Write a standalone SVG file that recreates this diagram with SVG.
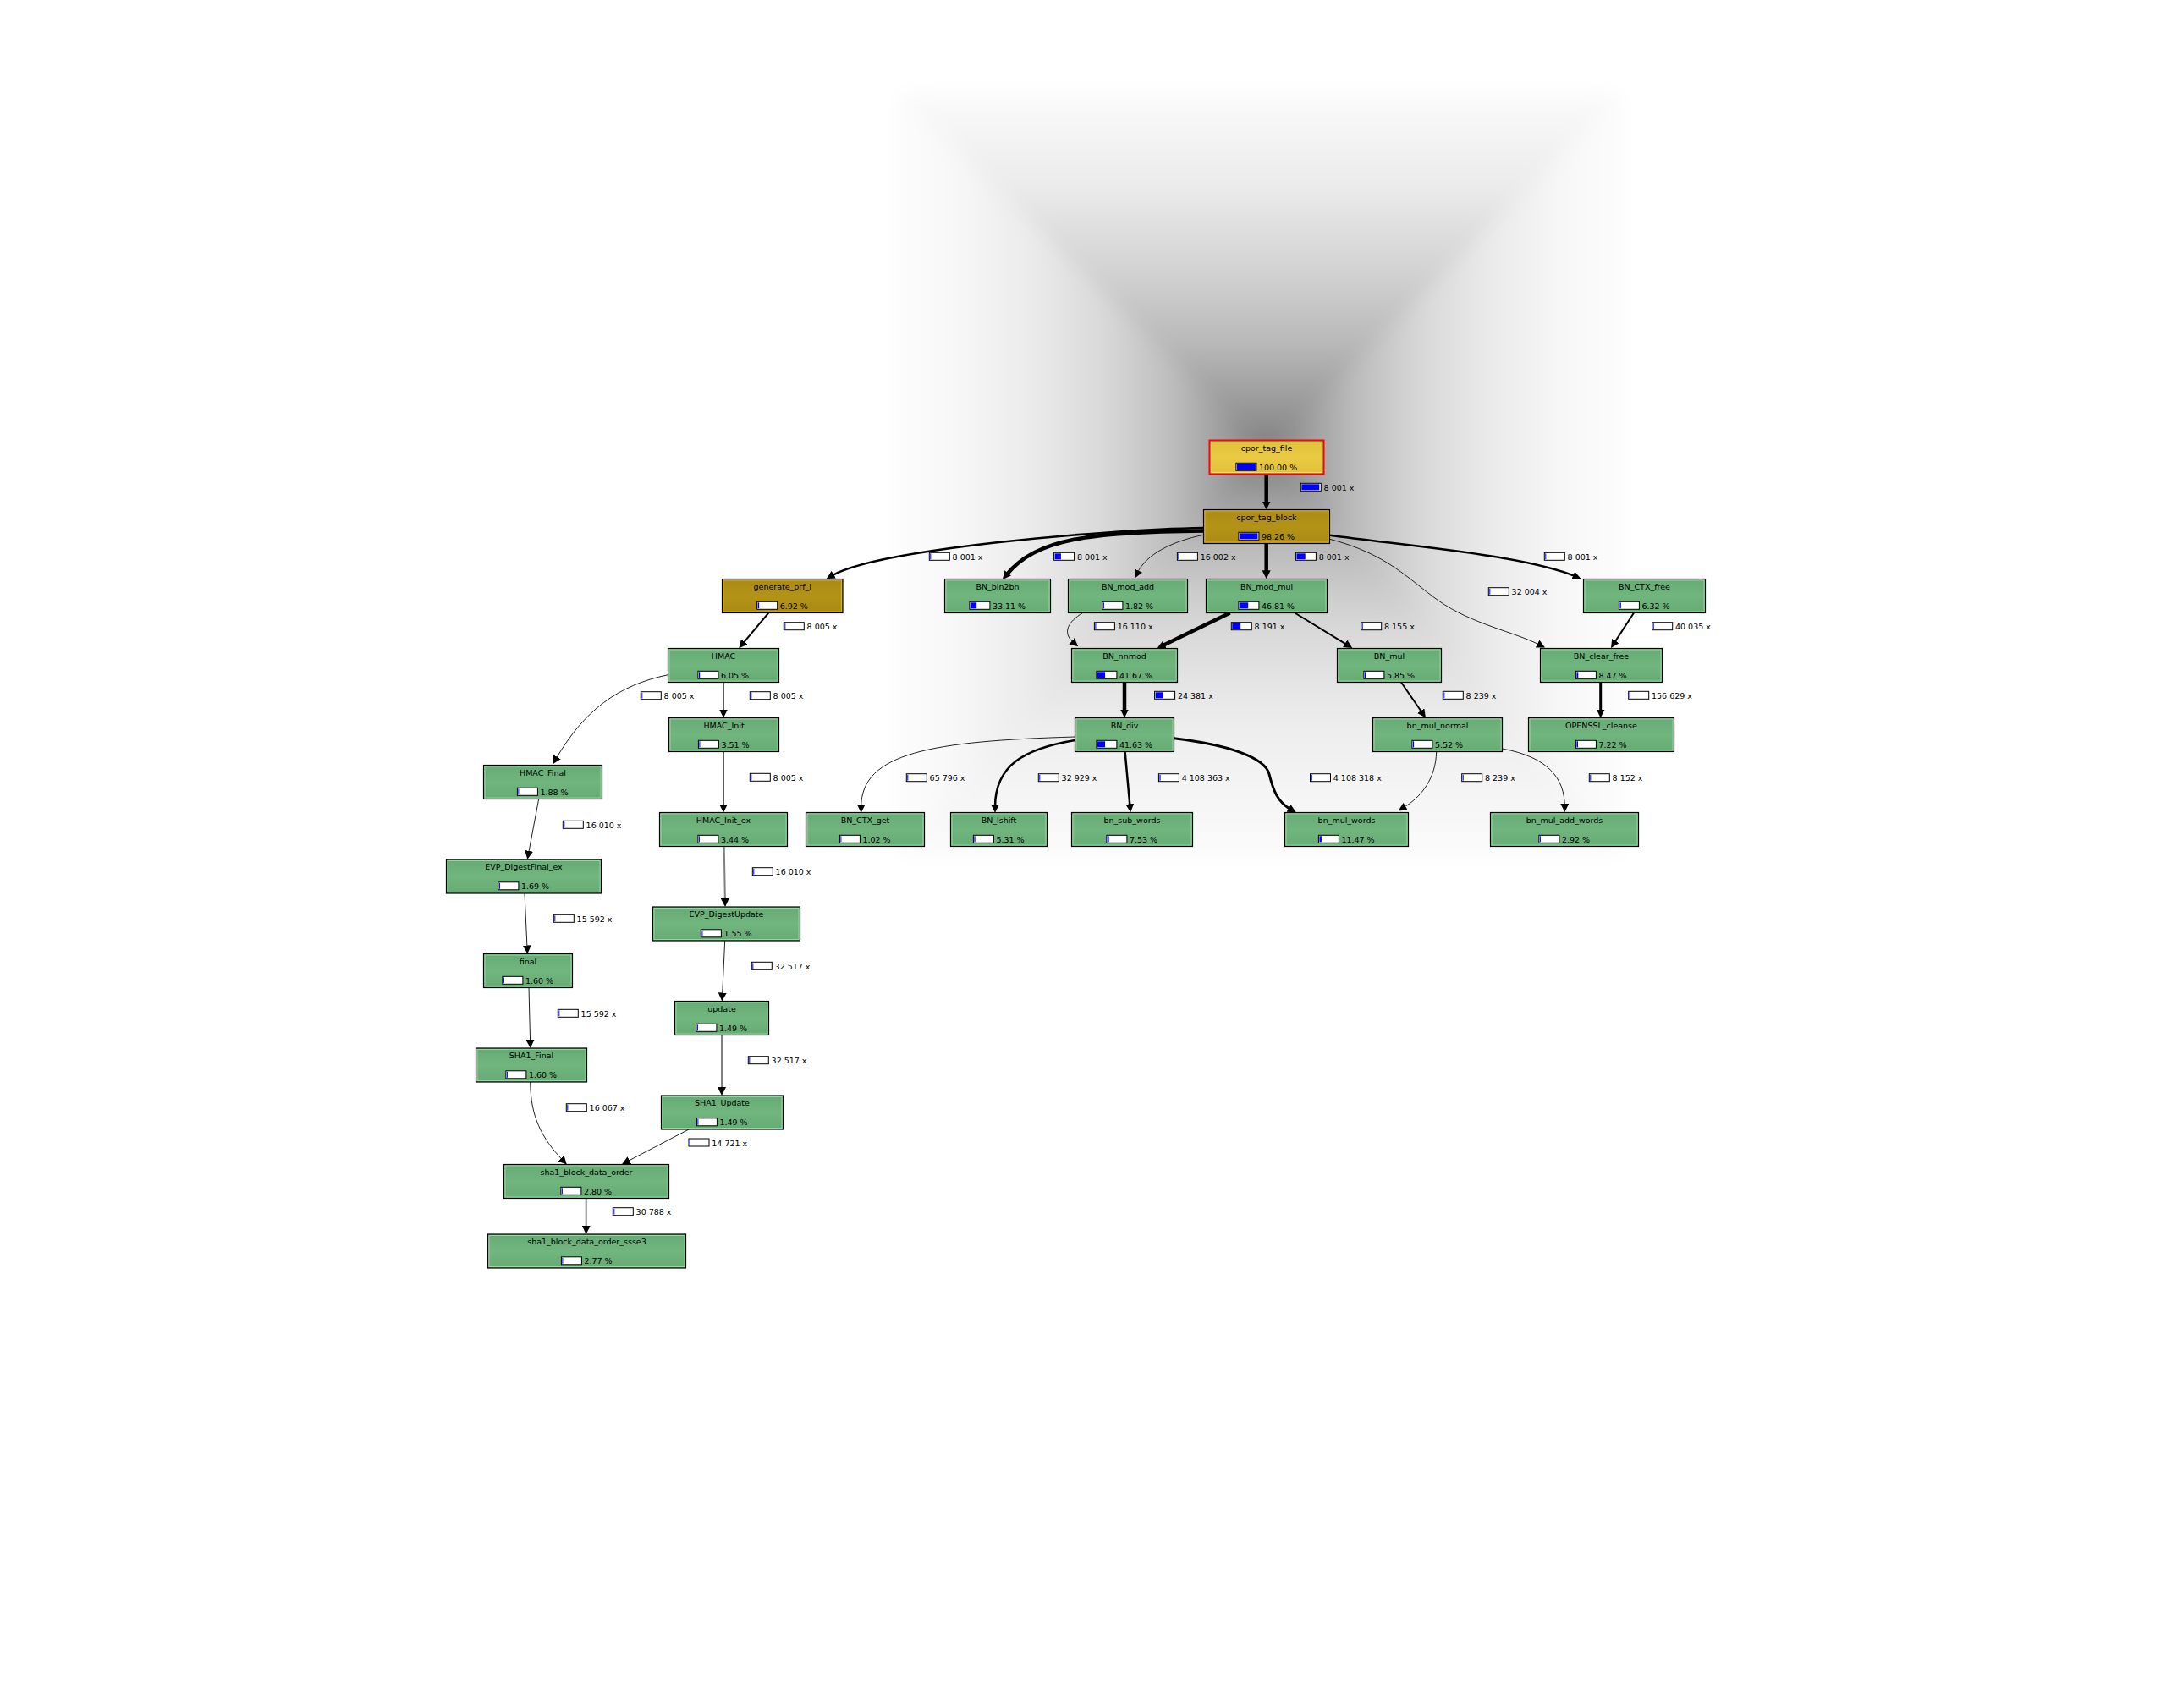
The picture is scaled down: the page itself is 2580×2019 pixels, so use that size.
<svg xmlns="http://www.w3.org/2000/svg" width="2580" height="2019" viewBox="0 0 2580 2019">
<defs>
<style>
text{font-family:"DejaVu Sans","Liberation Sans",sans-serif;font-size:9.5px;fill:#000}
.nm{text-anchor:middle}
.nb{stroke:#000;stroke-width:1.2}
.green{fill:url(#gGreen)}
.gold{fill:url(#gGold)}
.yel{fill:url(#gYel)}
.ig{fill:none;stroke:#94d7a1;stroke-width:1}
.io{fill:none;stroke:#d2b233;stroke-width:1}
.iy{fill:none;stroke:#f6e07c;stroke-width:1}
.bar{fill:#fff;stroke:#000;stroke-width:1}
.bf{fill:#0000ff}
.e{fill:none;stroke:#000;marker-end:url(#ah)}
.w1{stroke-width:1;stroke:#222}
.w2{stroke-width:2}
.w25{stroke-width:2.5}
.w3{stroke-width:3}
.w4{stroke-width:4.5}
.gr{stroke:#5a5a5a;stroke-width:2}
.gr2{stroke:#808080;stroke-width:2}
</style>
<linearGradient id="gGreen" x1="0" y1="0" x2="0" y2="1">
<stop offset="0" stop-color="#66aa74"/><stop offset="0.5" stop-color="#71b57f"/><stop offset="1" stop-color="#66aa74"/>
</linearGradient>
<linearGradient id="gGold" x1="0" y1="0" x2="0" y2="1">
<stop offset="0" stop-color="#aa8a13"/><stop offset="0.5" stop-color="#b39317"/><stop offset="1" stop-color="#aa8a13"/>
</linearGradient>
<linearGradient id="gYel" x1="0" y1="0" x2="0" y2="1">
<stop offset="0" stop-color="#e2bf38"/><stop offset="0.5" stop-color="#eaca44"/><stop offset="1" stop-color="#e2bf38"/>
</linearGradient>
<linearGradient id="bgT" gradientUnits="userSpaceOnUse" x1="0" y1="535" x2="0" y2="109">
<stop offset="0" stop-color="#7c7c7c"/><stop offset="0.12" stop-color="#979797"/><stop offset="0.3" stop-color="#b8b8b8"/><stop offset="0.5" stop-color="#d2d2d2"/><stop offset="0.75" stop-color="#ececec"/><stop offset="1" stop-color="#fbfbfb"/>
</linearGradient>
<linearGradient id="bgL" gradientUnits="userSpaceOnUse" x1="1497" y1="0" x2="1060" y2="0">
<stop offset="0" stop-color="#7c7c7c"/><stop offset="0.1" stop-color="#999999"/><stop offset="0.25" stop-color="#bcbcbc"/><stop offset="0.45" stop-color="#dadada"/><stop offset="0.65" stop-color="#ececec"/><stop offset="0.85" stop-color="#f8f8f8"/><stop offset="1" stop-color="#fcfcfc"/>
</linearGradient>
<linearGradient id="bgR" gradientUnits="userSpaceOnUse" x1="1497" y1="0" x2="1918" y2="0">
<stop offset="0" stop-color="#7c7c7c"/><stop offset="0.1" stop-color="#999999"/><stop offset="0.25" stop-color="#bcbcbc"/><stop offset="0.45" stop-color="#dadada"/><stop offset="0.65" stop-color="#ececec"/><stop offset="0.85" stop-color="#f8f8f8"/><stop offset="1" stop-color="#fcfcfc"/>
</linearGradient>
<linearGradient id="bgB" gradientUnits="userSpaceOnUse" x1="0" y1="535" x2="0" y2="1012">
<stop offset="0" stop-color="#7c7c7c"/><stop offset="0.1" stop-color="#9a9a9a"/><stop offset="0.25" stop-color="#bdbdbd"/><stop offset="0.45" stop-color="#dadada"/><stop offset="0.7" stop-color="#efefef"/><stop offset="1" stop-color="#fbfbfb"/>
</linearGradient>
<filter id="soft" x="-5%" y="-5%" width="110%" height="110%"><feGaussianBlur stdDeviation="11"/></filter>
<marker id="ah" viewBox="0 0 10 10" refX="3" refY="5" markerWidth="10" markerHeight="10" markerUnits="userSpaceOnUse" orient="auto">
<path d="M0,0 L10,5 L0,10 Z" fill="#000"/>
</marker>
</defs>
<rect width="2580" height="2019" fill="#fff"/>
<g id="background" filter="url(#soft)">
<polygon points="1060,109 1918,109 1497,535" fill="url(#bgT)"/>
<polygon points="1060,109 1060,1012 1497,535" fill="url(#bgL)"/>
<polygon points="1918,109 1918,1012 1497,535" fill="url(#bgR)"/>
<polygon points="1060,1012 1918,1012 1497,535" fill="url(#bgB)"/>
</g>

<g id="connectors">
<g id="e1"><path class="e w4" d="M1496.7,561 L1496.7,595.5"/><rect class="bar" x="1537.3" y="571.3" width="24" height="9"/><rect class="bf" x="1538.3" y="572.3" width="21" height="7"/><text x="1564.6" y="579.9">8 001 x</text></g>
<g id="e2"><path class="e w25" d="M1422.5,624 C1300,626 1034,650 982.7,680.7"/><rect class="bar" x="1098.3" y="653.3" width="24" height="9"/><rect class="bf" x="1099.3" y="654.3" width="1" height="7"/><text x="1125.6" y="661.9">8 001 x</text></g>
<g id="e3"><path class="e w4" d="M1422.5,627.5 C1290,629 1225,636 1189.3,679.7"/><rect class="bar" x="1245.6" y="653.3" width="24" height="9"/><rect class="bf" x="1246.6" y="654.3" width="7.3" height="7"/><text x="1272.9" y="661.9">8 001 x</text></g>
<g id="e4"><path class="e w1" d="M1422.3,632.3 C1385,640 1355,655 1344.2,677.2"/><rect class="bar" x="1391.4" y="653.3" width="24" height="9"/><rect class="bf" x="1392.4" y="654.3" width="1" height="7"/><text x="1418.7" y="661.9">16 002 x</text></g>
<g id="e5"><path class="e w4" d="M1496.7,642.5 L1496.7,677.3"/><rect class="bar" x="1531.4" y="653.3" width="24" height="9"/><rect class="bf" x="1532.4" y="654.3" width="10.3" height="7"/><text x="1558.7" y="661.9">8 001 x</text></g>
<g id="e6"><path class="e w25" d="M1571.7,632.7 C1660,645 1800,656 1862,681.4"/><rect class="bar" x="1825.3" y="653.3" width="24" height="9"/><rect class="bf" x="1826.3" y="654.3" width="1" height="7"/><text x="1852.6" y="661.9">8 001 x</text></g>
<g id="e7"><path class="e w1" d="M1571.7,637.3 C1640,655 1665,685 1700,710 C1740,738 1790,747 1819.8,762.4"/><rect class="bar" x="1759.3" y="694.7" width="24" height="9"/><rect class="bf" x="1760.3" y="695.7" width="1" height="7"/><text x="1786.6" y="703.3">32 004 x</text></g>
<g id="e8"><path class="e w2" d="M908.3,724.5 L877.8,760.9"/><rect class="bar" x="926.3" y="735.7" width="24" height="9"/><rect class="bf" x="927.3" y="736.7" width="1" height="7"/><text x="953.6" y="744.3">8 005 x</text></g>
<g id="e9"><path class="e w1" d="M1279.6,724.5 C1262,735 1255,748 1268.9,759.8"/><rect class="bar" x="1293.4" y="735.7" width="24" height="9"/><rect class="bf" x="1294.4" y="736.7" width="1" height="7"/><text x="1320.7" y="744.3">16 110 x</text></g>
<g id="e10"><path class="e w4" d="M1453.7,724.5 L1373.9,763.2"/><rect class="bar" x="1455.3" y="735.7" width="24" height="9"/><rect class="bf" x="1456.3" y="736.7" width="9.9" height="7"/><text x="1482.6" y="744.3">8 191 x</text></g>
<g id="e11"><path class="e w2" d="M1530.3,724.5 L1592.3,762.3"/><rect class="bar" x="1608.7" y="735.7" width="24" height="9"/><rect class="bf" x="1609.7" y="736.7" width="1" height="7"/><text x="1636" y="744.3">8 155 x</text></g>
<g id="e12"><path class="e w2" d="M1931,724.5 L1907.8,760.1"/><rect class="bar" x="1952.7" y="735.7" width="24" height="9"/><rect class="bf" x="1953.7" y="736.7" width="1" height="7"/><text x="1980" y="744.3">40 035 x</text></g>
<g id="e13"><path class="e w4" d="M1329,806.5 L1329,841.5"/><rect class="bar" x="1364.6" y="817.3" width="24" height="9"/><rect class="bf" x="1365.6" y="818.3" width="9.2" height="7"/><text x="1391.9" y="825.9">24 381 x</text></g>
<g id="e14"><path class="e w2" d="M1656,806.5 L1681,842.7"/><rect class="bar" x="1705.3" y="817.3" width="24" height="9"/><rect class="bf" x="1706.3" y="818.3" width="1" height="7"/><text x="1732.6" y="825.9">8 239 x</text></g>
<g id="e15"><path class="e w3" d="M1891.7,806.5 L1891.7,841.5"/><rect class="bar" x="1924.7" y="817.3" width="24" height="9"/><rect class="bf" x="1925.7" y="818.3" width="1" height="7"/><text x="1952" y="825.9">156 629 x</text></g>
<g id="e16"><path class="e gr" d="M855,806.5 L855,841.5"/><rect class="bar" x="886.3" y="817.7" width="24" height="9"/><rect class="bf" x="887.3" y="818.7" width="1" height="7"/><text x="913.6" y="826.3">8 005 x</text></g>
<g id="e17"><path class="e w1" d="M789.5,797.7 C730,810 690,840 656.9,897.3"/><rect class="bar" x="757.3" y="817.7" width="24" height="9"/><rect class="bf" x="758.3" y="818.7" width="1" height="7"/><text x="784.6" y="826.3">8 005 x</text></g>
<g id="e18"><path class="e gr" d="M855,888.5 L855,953.5"/><rect class="bar" x="886.3" y="914.3" width="24" height="9"/><rect class="bf" x="887.3" y="915.3" width="1" height="7"/><text x="913.6" y="922.9">8 005 x</text></g>
<g id="e19"><path class="e w1" d="M636.7,944.5 L624.6,1008.8"/><rect class="bar" x="665.3" y="970.3" width="24" height="9"/><rect class="bf" x="666.3" y="971.3" width="1" height="7"/><text x="692.6" y="978.9">16 010 x</text></g>
<g id="e20"><path class="e gr2" d="M855.7,1000.5 L856.9,1065"/><rect class="bar" x="889.3" y="1025.7" width="24" height="9"/><rect class="bf" x="890.3" y="1026.7" width="1" height="7"/><text x="916.6" y="1034.3">16 010 x</text></g>
<g id="e21"><path class="e w1" d="M620,1056 L623,1120.5"/><rect class="bar" x="654.3" y="1081.3" width="24" height="9"/><rect class="bf" x="655.3" y="1082.3" width="1" height="7"/><text x="681.6" y="1089.9">15 592 x</text></g>
<g id="e22"><path class="e w1" d="M856.7,1112 L853.6,1176.5"/><rect class="bar" x="888.3" y="1137.3" width="24" height="9"/><rect class="bf" x="889.3" y="1138.3" width="1" height="7"/><text x="915.6" y="1145.9">32 517 x</text></g>
<g id="e23"><path class="e w1" d="M625,1167.5 L626.6,1232"/><rect class="bar" x="659.3" y="1193.3" width="24" height="9"/><rect class="bf" x="660.3" y="1194.3" width="1" height="7"/><text x="686.6" y="1201.9">15 592 x</text></g>
<g id="e24"><path class="e gr2" d="M853,1223.5 L853,1288"/><rect class="bar" x="884.3" y="1248.7" width="24" height="9"/><rect class="bf" x="885.3" y="1249.7" width="1" height="7"/><text x="911.6" y="1257.3">32 517 x</text></g>
<g id="e25"><path class="e w1" d="M626.7,1279 C627,1320 640,1345 665,1371.5"/><rect class="bar" x="669.3" y="1304.7" width="24" height="9"/><rect class="bf" x="670.3" y="1305.7" width="1" height="7"/><text x="696.6" y="1313.3">16 067 x</text></g>
<g id="e26"><path class="e w1" d="M814,1335 L741.2,1373"/><rect class="bar" x="814" y="1346" width="24" height="9"/><rect class="bf" x="815" y="1347" width="1" height="7"/><text x="841.3" y="1354.6">14 721 x</text></g>
<g id="e27"><path class="e gr2" d="M692.7,1416.5 L692.7,1452"/><rect class="bar" x="724.3" y="1427.7" width="24" height="9"/><rect class="bf" x="725.3" y="1428.7" width="1" height="7"/><text x="751.6" y="1436.3">30 788 x</text></g>
<g id="e28"><path class="e w1" d="M1270.5,871 C1100,876 1018,890 1017.7,953.7"/><rect class="bar" x="1071.3" y="914.7" width="24" height="9"/><rect class="bf" x="1072.3" y="915.7" width="1" height="7"/><text x="1098.6" y="923.3">65 796 x</text></g>
<g id="e29"><path class="e w25" d="M1270.5,875 C1210,885 1176,905 1176,953.7"/><rect class="bar" x="1227.3" y="914.7" width="24" height="9"/><rect class="bf" x="1228.3" y="915.7" width="1" height="7"/><text x="1254.6" y="923.3">32 929 x</text></g>
<g id="e30"><path class="e w25" d="M1329.6,888.5 L1335.5,953.3"/><rect class="bar" x="1369.4" y="914.7" width="24" height="9"/><rect class="bf" x="1370.4" y="915.7" width="1.2" height="7"/><text x="1396.7" y="923.3">4 108 363 x</text></g>
<g id="e31"><path class="e w3" d="M1387.5,872.7 C1450,880 1495,895 1500,915 C1505,935 1510,948 1525.7,956.9"/><rect class="bar" x="1548.5" y="914.7" width="24" height="9"/><rect class="bf" x="1549.5" y="915.7" width="1.2" height="7"/><text x="1575.8" y="923.3">4 108 318 x</text></g>
<g id="e32"><path class="e w1" d="M1697.7,888.5 C1697,920 1680,942 1658.6,954.8"/><rect class="bar" x="1727.7" y="914.7" width="24" height="9"/><rect class="bf" x="1728.7" y="915.7" width="1" height="7"/><text x="1755" y="923.3">8 239 x</text></g>
<g id="e33"><path class="e w1" d="M1775.5,885 C1830,895 1849,920 1849.3,953"/><rect class="bar" x="1878.3" y="914.7" width="24" height="9"/><rect class="bf" x="1879.3" y="915.7" width="1" height="7"/><text x="1905.6" y="923.3">8 152 x</text></g>
</g>

<g id="nodes">
<g id="n_cpor_tag_file"><rect class="yel" x="1429.5" y="520.5" width="135" height="40" stroke="#ff0000" stroke-width="2"/><rect class="iy" x="1431.5" y="522.5" width="131" height="36"/><text class="nm" x="1497" y="532.5">cpor_tag_file</text><rect class="bar" x="1460.9" y="547.3" width="24" height="9"/><rect class="bf" x="1461.9" y="548.3" width="22" height="7"/><text x="1487.9" y="555.8">100.00 %</text></g>
<g id="n_cpor_tag_block"><rect class="gold nb" x="1422.5" y="602.5" width="149" height="40"/><rect class="io" x="1424" y="604" width="146" height="37"/><text class="nm" x="1497" y="614.5">cpor_tag_block</text><rect class="bar" x="1463.9" y="629.3" width="24" height="9"/><rect class="bf" x="1464.9" y="630.3" width="21.6" height="7"/><text x="1490.9" y="637.8">98.26 %</text></g>
<g id="n_generate_prf_i"><rect class="gold nb" x="853.5" y="684.5" width="142.5" height="40"/><rect class="io" x="855" y="686" width="139.5" height="37"/><text class="nm" x="924.75" y="696.5">generate_prf_i</text><rect class="bar" x="894.65" y="711.3" width="24" height="9"/><rect class="bf" x="895.65" y="712.3" width="1.5" height="7"/><text x="921.65" y="719.8">6.92 %</text></g>
<g id="n_BN_bin2bn"><rect class="green nb" x="1116.5" y="684.5" width="125" height="40"/><rect class="ig" x="1118" y="686" width="122" height="37"/><text class="nm" x="1179" y="696.5">BN_bin2bn</text><rect class="bar" x="1145.9" y="711.3" width="24" height="9"/><rect class="bf" x="1146.9" y="712.3" width="7.3" height="7"/><text x="1172.9" y="719.8">33.11 %</text></g>
<g id="n_BN_mod_add"><rect class="green nb" x="1262.5" y="684.5" width="141" height="40"/><rect class="ig" x="1264" y="686" width="138" height="37"/><text class="nm" x="1333" y="696.5">BN_mod_add</text><rect class="bar" x="1302.9" y="711.3" width="24" height="9"/><rect class="bf" x="1303.9" y="712.3" width="1" height="7"/><text x="1329.9" y="719.8">1.82 %</text></g>
<g id="n_BN_mod_mul"><rect class="green nb" x="1425.5" y="684.5" width="143" height="40"/><rect class="ig" x="1427" y="686" width="140" height="37"/><text class="nm" x="1497" y="696.5">BN_mod_mul</text><rect class="bar" x="1463.9" y="711.3" width="24" height="9"/><rect class="bf" x="1464.9" y="712.3" width="10.3" height="7"/><text x="1490.9" y="719.8">46.81 %</text></g>
<g id="n_BN_CTX_free"><rect class="green nb" x="1871.5" y="684.5" width="144" height="40"/><rect class="ig" x="1873" y="686" width="141" height="37"/><text class="nm" x="1943.5" y="696.5">BN_CTX_free</text><rect class="bar" x="1913.4" y="711.3" width="24" height="9"/><rect class="bf" x="1914.4" y="712.3" width="1.4" height="7"/><text x="1940.4" y="719.8">6.32 %</text></g>
<g id="n_BN_nnmod"><rect class="green nb" x="1266.5" y="766.5" width="125" height="40"/><rect class="ig" x="1268" y="768" width="122" height="37"/><text class="nm" x="1329" y="778.5">BN_nnmod</text><rect class="bar" x="1295.9" y="793.3" width="24" height="9"/><rect class="bf" x="1296.9" y="794.3" width="9.2" height="7"/><text x="1322.9" y="801.8">41.67 %</text></g>
<g id="n_BN_mul"><rect class="green nb" x="1580.5" y="766.5" width="123" height="40"/><rect class="ig" x="1582" y="768" width="120" height="37"/><text class="nm" x="1642" y="778.5">BN_mul</text><rect class="bar" x="1611.9" y="793.3" width="24" height="9"/><rect class="bf" x="1612.9" y="794.3" width="1.3" height="7"/><text x="1638.9" y="801.8">5.85 %</text></g>
<g id="n_BN_clear_free"><rect class="green nb" x="1820.5" y="766.5" width="144" height="40"/><rect class="ig" x="1822" y="768" width="141" height="37"/><text class="nm" x="1892.5" y="778.5">BN_clear_free</text><rect class="bar" x="1862.4" y="793.3" width="24" height="9"/><rect class="bf" x="1863.4" y="794.3" width="1.9" height="7"/><text x="1889.4" y="801.8">8.47 %</text></g>
<g id="n_HMAC"><rect class="green nb" x="789.5" y="766.5" width="131" height="40"/><rect class="ig" x="791" y="768" width="128" height="37"/><text class="nm" x="855" y="778.5">HMAC</text><rect class="bar" x="824.9" y="793.3" width="24" height="9"/><rect class="bf" x="825.9" y="794.3" width="1.3" height="7"/><text x="851.9" y="801.8">6.05 %</text></g>
<g id="n_HMAC_Init"><rect class="green nb" x="790.5" y="848.5" width="130" height="40"/><rect class="ig" x="792" y="850" width="127" height="37"/><text class="nm" x="855.5" y="860.5">HMAC_Init</text><rect class="bar" x="825.4" y="875.3" width="24" height="9"/><rect class="bf" x="826.4" y="876.3" width="1" height="7"/><text x="852.4" y="883.8">3.51 %</text></g>
<g id="n_HMAC_Final"><rect class="green nb" x="571.5" y="904.5" width="140" height="40"/><rect class="ig" x="573" y="906" width="137" height="37"/><text class="nm" x="641.5" y="916.5">HMAC_Final</text><rect class="bar" x="611.4" y="931.3" width="24" height="9"/><rect class="bf" x="612.4" y="932.3" width="1" height="7"/><text x="638.4" y="939.8">1.88 %</text></g>
<g id="n_HMAC_Init_ex"><rect class="green nb" x="779.5" y="960.5" width="151" height="40"/><rect class="ig" x="781" y="962" width="148" height="37"/><text class="nm" x="855" y="972.5">HMAC_Init_ex</text><rect class="bar" x="824.9" y="987.3" width="24" height="9"/><rect class="bf" x="825.9" y="988.3" width="1" height="7"/><text x="851.9" y="995.8">3.44 %</text></g>
<g id="n_EVP_DigestFinal_ex"><rect class="green nb" x="527.5" y="1016" width="183" height="40"/><rect class="ig" x="529" y="1017.5" width="180" height="37"/><text class="nm" x="619" y="1028">EVP_DigestFinal_ex</text><rect class="bar" x="588.9" y="1042.8" width="24" height="9"/><rect class="bf" x="589.9" y="1043.8" width="1" height="7"/><text x="615.9" y="1051.3">1.69 %</text></g>
<g id="n_EVP_DigestUpdate"><rect class="green nb" x="771.5" y="1072" width="174" height="40"/><rect class="ig" x="773" y="1073.5" width="171" height="37"/><text class="nm" x="858.5" y="1084">EVP_DigestUpdate</text><rect class="bar" x="828.4" y="1098.8" width="24" height="9"/><rect class="bf" x="829.4" y="1099.8" width="1" height="7"/><text x="855.4" y="1107.3">1.55 %</text></g>
<g id="n_final"><rect class="green nb" x="571.5" y="1127.5" width="105" height="40"/><rect class="ig" x="573" y="1129" width="102" height="37"/><text class="nm" x="624" y="1139.5">final</text><rect class="bar" x="593.9" y="1154.3" width="24" height="9"/><rect class="bf" x="594.9" y="1155.3" width="1" height="7"/><text x="620.9" y="1162.8">1.60 %</text></g>
<g id="n_update"><rect class="green nb" x="797.5" y="1183.5" width="111" height="40"/><rect class="ig" x="799" y="1185" width="108" height="37"/><text class="nm" x="853" y="1195.5">update</text><rect class="bar" x="822.9" y="1210.3" width="24" height="9"/><rect class="bf" x="823.9" y="1211.3" width="1" height="7"/><text x="849.9" y="1218.8">1.49 %</text></g>
<g id="n_SHA1_Final"><rect class="green nb" x="562.5" y="1239" width="131" height="40"/><rect class="ig" x="564" y="1240.5" width="128" height="37"/><text class="nm" x="628" y="1251">SHA1_Final</text><rect class="bar" x="597.9" y="1265.8" width="24" height="9"/><rect class="bf" x="598.9" y="1266.8" width="1" height="7"/><text x="624.9" y="1274.3">1.60 %</text></g>
<g id="n_SHA1_Update"><rect class="green nb" x="781.5" y="1295" width="144" height="40"/><rect class="ig" x="783" y="1296.5" width="141" height="37"/><text class="nm" x="853.5" y="1307">SHA1_Update</text><rect class="bar" x="823.4" y="1321.8" width="24" height="9"/><rect class="bf" x="824.4" y="1322.8" width="1" height="7"/><text x="850.4" y="1330.3">1.49 %</text></g>
<g id="n_sha1_block_data_order"><rect class="green nb" x="595.5" y="1376.5" width="195" height="40"/><rect class="ig" x="597" y="1378" width="192" height="37"/><text class="nm" x="693" y="1388.5">sha1_block_data_order</text><rect class="bar" x="662.9" y="1403.3" width="24" height="9"/><rect class="bf" x="663.9" y="1404.3" width="1" height="7"/><text x="689.9" y="1411.8">2.80 %</text></g>
<g id="n_sha1_block_data_order_ssse3"><rect class="green nb" x="576.5" y="1459" width="234" height="40"/><rect class="ig" x="578" y="1460.5" width="231" height="37"/><text class="nm" x="693.5" y="1471">sha1_block_data_order_ssse3</text><rect class="bar" x="663.4" y="1485.8" width="24" height="9"/><rect class="bf" x="664.4" y="1486.8" width="1" height="7"/><text x="690.4" y="1494.3">2.77 %</text></g>
<g id="n_BN_div"><rect class="green nb" x="1270.5" y="848.5" width="117" height="40"/><rect class="ig" x="1272" y="850" width="114" height="37"/><text class="nm" x="1329" y="860.5">BN_div</text><rect class="bar" x="1295.9" y="875.3" width="24" height="9"/><rect class="bf" x="1296.9" y="876.3" width="9.2" height="7"/><text x="1322.9" y="883.8">41.63 %</text></g>
<g id="n_bn_mul_normal"><rect class="green nb" x="1622.5" y="848.5" width="153" height="40"/><rect class="ig" x="1624" y="850" width="150" height="37"/><text class="nm" x="1699" y="860.5">bn_mul_normal</text><rect class="bar" x="1668.9" y="875.3" width="24" height="9"/><rect class="bf" x="1669.9" y="876.3" width="1.2" height="7"/><text x="1695.9" y="883.8">5.52 %</text></g>
<g id="n_OPENSSL_cleanse"><rect class="green nb" x="1806.5" y="848.5" width="172" height="40"/><rect class="ig" x="1808" y="850" width="169" height="37"/><text class="nm" x="1892.5" y="860.5">OPENSSL_cleanse</text><rect class="bar" x="1862.4" y="875.3" width="24" height="9"/><rect class="bf" x="1863.4" y="876.3" width="1.6" height="7"/><text x="1889.4" y="883.8">7.22 %</text></g>
<g id="n_BN_CTX_get"><rect class="green nb" x="952.5" y="960.5" width="140" height="40"/><rect class="ig" x="954" y="962" width="137" height="37"/><text class="nm" x="1022.5" y="972.5">BN_CTX_get</text><rect class="bar" x="992.4" y="987.3" width="24" height="9"/><rect class="bf" x="993.4" y="988.3" width="1" height="7"/><text x="1019.4" y="995.8">1.02 %</text></g>
<g id="n_BN_lshift"><rect class="green nb" x="1123.5" y="960.5" width="114" height="40"/><rect class="ig" x="1125" y="962" width="111" height="37"/><text class="nm" x="1180.5" y="972.5">BN_lshift</text><rect class="bar" x="1150.4" y="987.3" width="24" height="9"/><rect class="bf" x="1151.4" y="988.3" width="1.2" height="7"/><text x="1177.4" y="995.8">5.31 %</text></g>
<g id="n_bn_sub_words"><rect class="green nb" x="1266.5" y="960.5" width="143" height="40"/><rect class="ig" x="1268" y="962" width="140" height="37"/><text class="nm" x="1338" y="972.5">bn_sub_words</text><rect class="bar" x="1307.9" y="987.3" width="24" height="9"/><rect class="bf" x="1308.9" y="988.3" width="1.7" height="7"/><text x="1334.9" y="995.8">7.53 %</text></g>
<g id="n_bn_mul_words"><rect class="green nb" x="1518.5" y="960.5" width="146" height="40"/><rect class="ig" x="1520" y="962" width="143" height="37"/><text class="nm" x="1591.5" y="972.5">bn_mul_words</text><rect class="bar" x="1558.4" y="987.3" width="24" height="9"/><rect class="bf" x="1559.4" y="988.3" width="2.5" height="7"/><text x="1585.4" y="995.8">11.47 %</text></g>
<g id="n_bn_mul_add_words"><rect class="green nb" x="1761.5" y="960.5" width="175" height="40"/><rect class="ig" x="1763" y="962" width="172" height="37"/><text class="nm" x="1849" y="972.5">bn_mul_add_words</text><rect class="bar" x="1818.9" y="987.3" width="24" height="9"/><rect class="bf" x="1819.9" y="988.3" width="1" height="7"/><text x="1845.9" y="995.8">2.92 %</text></g>
</g>
</svg>
